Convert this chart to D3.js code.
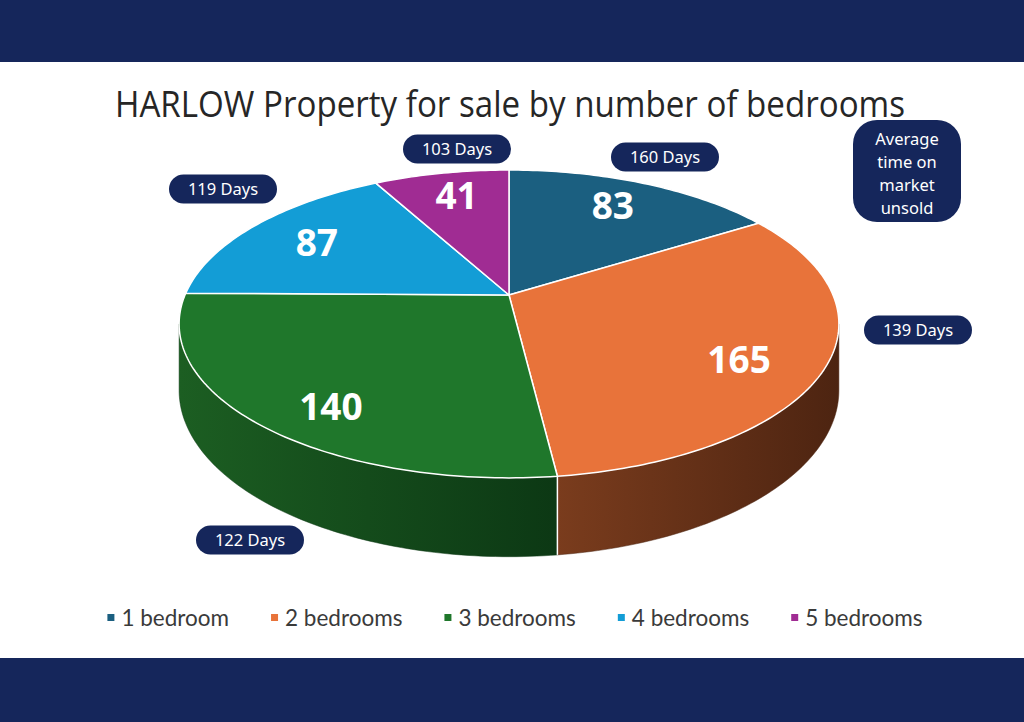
<!DOCTYPE html>
<html>
<head>
<meta charset="utf-8">
<script src="https://cdn.jsdelivr.net/npm/d3@7"></script>
<style>
  html, body { margin: 0; padding: 0; background: #fff; }
  svg { display: block; }
</style>
</head>
<body>
<div id="chart"></div>
<script>
// data
const categories = ["1 bedroom", "2 bedrooms", "3 bedrooms", "4 bedrooms", "5 bedrooms"];
const counts = [83, 165, 140, 87, 41];
const daysOnMarket = ["160 Days", "139 Days", "122 Days", "119 Days", "103 Days"];
const noteLines = ["Average", "time on", "market", "unsold"];

// styles
const topColors = ["#1b5f80", "#e8733a", "#1f772b", "#139dd6", "#a02c93"];
const sideColors = [["#134660", "#0c3044"], ["#7a3c1d", "#4d2411"], ["#1c5e22", "#0c3814"], ["#0d6f98", "#094f6d"], ["#701f67", "#4f1649"]];
const navy = "#15265b";

// hand placed day bubbles (centre x, centre y)
const bubbleSpots = [[665, 157], [918, 330], [250, 540], [223, 189], [457, 149]];

const W = 1024, H = 722;
const svg = d3.select("#chart").append("svg").attr("width", W).attr("height", H);

svg.append("rect").attr("width", W).attr("height", H).attr("fill", "#fff");
svg.append("rect").attr("width", W).attr("height", 62).attr("fill", navy);
svg.append("rect").attr("y", 658).attr("width", W).attr("height", H - 658).attr("fill", navy);

svg.append("text")
  .attr("x", 510).attr("y", 117)
  .attr("text-anchor", "middle")
  .attr("font-family", "'Open Sans', sans-serif")
  .attr("font-size", 36)
  .attr("fill", "#262626")
  .attr("textLength", 790)
  .attr("lengthAdjust", "spacingAndGlyphs")
  .text("HARLOW Property for sale by number of bedrooms");

// perspective disc: angle clockwise from 12 o'clock
const cx = 509, cy = 295, R = 324, R2 = 148.5, k = 0.188, depth = 64;
function project(a, r, d) {
  const u = r * Math.sin(a), v = r * Math.cos(a);
  const s = 1 / (1 + k * v);
  return [cx + R * u * s, cy - R2 * v * s + d * depth * s];
}
function arcPoints(a0, a1, d) {
  const n = Math.max(2, Math.ceil((a1 - a0) / (Math.PI / 180)));
  return d3.range(n + 1).map(i => project(a0 + (a1 - a0) * i / n, 1, d));
}

const pie = d3.pie().sort(null).value(d => d)(counts);
const line = d3.line();
const defs = svg.append("defs");

// visible part of the outer wall
const visA = Math.acos(-k), visB = 2 * Math.PI - Math.acos(-k);
const walls = svg.append("g");
pie.forEach((p, i) => {
  const a0 = Math.max(p.startAngle, visA), a1 = Math.min(p.endAngle, visB);
  if (a1 <= a0) return;
  const g = defs.append("linearGradient").attr("id", "side" + i)
    .attr("x1", 0).attr("x2", 1).attr("y1", 0).attr("y2", 0);
  g.append("stop").attr("offset", 0).attr("stop-color", sideColors[i][0]);
  g.append("stop").attr("offset", 1).attr("stop-color", sideColors[i][1]);
  const pts = arcPoints(a0, a1, 0).concat(arcPoints(a0, a1, 1).reverse());
  walls.append("path")
    .attr("d", line(pts) + "Z")
    .attr("fill", `url(#side${i})`)
    .attr("stroke", sideColors[i][1]).attr("stroke-width", 0.5);
});
// white seams where slices meet on the wall
pie.forEach(p => {
  const a = p.startAngle;
  if (a > visA && a < visB) {
    walls.append("path").attr("d", line([project(a, 1, 0), project(a, 1, 1)]))
      .attr("stroke", "#fff").attr("stroke-width", 1.5);
  }
});

// top faces
svg.append("g").selectAll("path")
  .data(pie)
  .join("path")
  .attr("d", p => line([project(0, 0, 0)].concat(arcPoints(p.startAngle, p.endAngle, 0))) + "Z")
  .attr("fill", (p, i) => topColors[i])
  .attr("stroke", "#fff")
  .attr("stroke-width", 1.5)
  .attr("stroke-linejoin", "round");

// value labels
const labelR = 240, labelR2 = 125;
svg.append("g").selectAll("text")
  .data(pie)
  .join("text")
  .attr("x", p => {
    const m = (p.startAngle + p.endAngle) / 2;
    const s = 1 / (1 + k * 0.72 * Math.cos(m));
    return cx + labelR * Math.sin(m) * s;
  })
  .attr("y", p => {
    const m = (p.startAngle + p.endAngle) / 2;
    const s = 1 / (1 + k * 0.72 * Math.cos(m));
    return cy + 8 - labelR2 * Math.cos(m) * s;
  })
  .attr("dy", "0.36em")
  .attr("text-anchor", "middle")
  .attr("font-family", "'Open Sans', sans-serif")
  .attr("font-weight", 700)
  .attr("font-size", 37)
  .attr("fill", "#fff")
  .text(p => p.data);

// day bubbles
const bubbles = svg.append("g").selectAll("g")
  .data(daysOnMarket)
  .join("g")
  .attr("transform", (d, i) => `translate(${bubbleSpots[i][0]},${bubbleSpots[i][1]})`);
bubbles.append("rect")
  .attr("x", -54).attr("y", -14.5).attr("width", 108).attr("height", 29)
  .attr("rx", 14.5)
  .attr("fill", navy);
bubbles.append("text")
  .attr("text-anchor", "middle")
  .attr("dy", "0.36em")
  .attr("font-family", "'Noto Sans', sans-serif")
  .attr("font-size", 16.5)
  .attr("fill", "#fff")
  .text(d => d);

// note box
const note = svg.append("g").attr("transform", "translate(907,171)");
note.append("rect")
  .attr("x", -54).attr("y", -51).attr("width", 108).attr("height", 102)
  .attr("rx", 24)
  .attr("fill", navy);
note.selectAll("text")
  .data(noteLines)
  .join("text")
  .attr("text-anchor", "middle")
  .attr("y", (d, i) => -32 + i * 23)
  .attr("dy", "0.36em")
  .attr("font-family", "'Noto Sans', sans-serif")
  .attr("font-size", 16.5)
  .attr("fill", "#fff")
  .text(d => d);

// legend
const legend = svg.append("g");
const items = legend.selectAll("g").data(categories).join("g");
items.append("rect").attr("width", 7).attr("height", 7).attr("y", -4)
  .attr("fill", (d, i) => topColors[i]);
items.append("text")
  .attr("x", 14)
  .attr("dy", "0.35em")
  .attr("font-family", "Lato, sans-serif")
  .attr("font-size", 22.5)
  .attr("fill", "#3a3a3a")
  .text(d => d);
const gap = 42;
let xPos = 0;
const offs = [];
items.each(function () {
  offs.push(xPos);
  const w = d3.select(this).select("text").node().getComputedTextLength();
  xPos += 14 + w + gap;
});
const totalW = xPos - gap;
const startX = 515 - totalW / 2;
items.attr("transform", (d, i) => `translate(${startX + offs[i]},618)`);
</script>
</body>
</html>
